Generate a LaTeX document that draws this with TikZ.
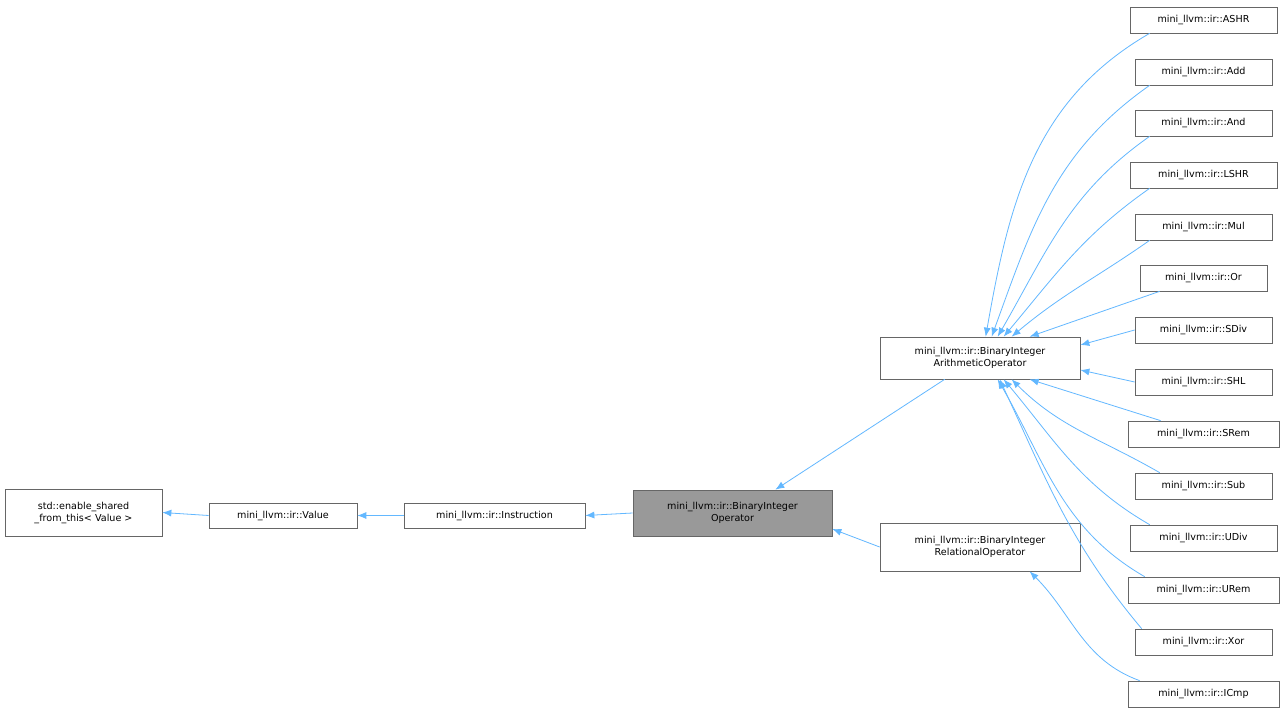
\documentclass[tikz,border=0pt]{standalone}
\usepackage{fontspec}
\setmainfont{DejaVu Sans}
\usetikzlibrary{arrows.meta,calc}
\definecolor{edgec}{HTML}{63B8FF}
\definecolor{boxc}{HTML}{666666}
\begin{document}
\begin{tikzpicture}[x=1pt,y=-1pt,
  box/.style={draw=boxc,fill=white,line width=0.7pt,inner sep=0pt,align=center,font=\fontsize{9.6}{12}\selectfont},
  edge/.style={draw=edgec,line width=0.8pt,-{Latex[length=9pt,width=7pt]}}]
\fill[white] (0,0) rectangle (1285,714);
\useasboundingbox (0,0) rectangle (1285,714);
\node[box,minimum width=157,minimum height=47] (esf) at (83.5,512.5) {std::enable\_shared\\\_from\_this{<} Value {>}};
\node[box,minimum width=148,minimum height=25] (val) at (283,515.5) {mini\_llvm::ir::Value};
\node[box,minimum width=181,minimum height=25] (ins) at (494.5,515.5) {mini\_llvm::ir::Instruction};
\node[box,fill=black!40,minimum width=199,minimum height=46] (bio) at (732.5,513) {mini\_llvm::ir::BinaryInteger\\Operator};
\node[box,minimum width=200,minimum height=42] (ar) at (980,358) {mini\_llvm::ir::BinaryInteger\\ArithmeticOperator};
\node[box,minimum width=200,minimum height=48] (rel) at (980,547) {mini\_llvm::ir::BinaryInteger\\RelationalOperator};
\foreach \n/\t/\w/\y in {ashr/ASHR/147/20, add/Add/137/72, and/And/137/123, lshr/LSHR/147/175, mul/Mul/137/227, or/Or/127/278, sdiv/SDiv/137/330, shl/SHL/137/382, srem/SRem/151/434, sub/Sub/137/486, udiv/UDiv/147/538, urem/URem/151/590, xor/Xor/137/642, icmp/ICmp/151/694}
  \node[box,minimum width=\w,minimum height=26] (\n) at (1203.5,\y) {mini\_llvm::ir::\t};
\draw[edge] (val.west) -- (esf.east);
\draw[edge] (ins.west) -- (val.east);
\draw[edge] (bio.west) -- (ins.east);
\draw[edge] ($(ar.south west)+(65,0)$) -- ($(bio.north east)+(-57,0)$);
\draw[edge] (rel.west) -- ($(bio.east)+(0,16)$);
\draw[edge] ($(ashr.south west)+(20,0)$) to[out=-150,in=80] ($(ar.north west)+(106,0)$);
\draw[edge] ($(add.south west)+(15,0)$) to[out=-145,in=70] ($(ar.north west)+(112,0)$);
\draw[edge] ($(and.south west)+(15,0)$) to[out=-145,in=60] ($(ar.north west)+(118,0)$);
\draw[edge] ($(lshr.south west)+(20,0)$) to[out=-145,in=50] ($(ar.north west)+(124,0)$);
\draw[edge] ($(mul.south west)+(15,0)$) to[out=-145,in=40] ($(ar.north west)+(132,0)$);
\draw[edge] ($(or.south west)+(20,0)$) -- ($(ar.north west)+(150,0)$);
\draw[edge] (sdiv.west) -- ($(ar.east)+(0,-13)$);
\draw[edge] (shl.west) -- ($(ar.east)+(0,12)$);
\draw[edge] ($(srem.north west)+(33,0)$) -- ($(ar.south west)+(150,0)$);
\draw[edge] ($(sub.north west)+(25,0)$) to[out=150,in=-45] ($(ar.south west)+(132,0)$);
\draw[edge] ($(udiv.north west)+(20,0)$) to[out=150,in=-50] ($(ar.south west)+(124,0)$);
\draw[edge] ($(urem.north west)+(17,0)$) to[out=150,in=-60] ($(ar.south west)+(118,0)$);
\draw[edge] ($(xor.north west)+(7,0)$) to[out=130,in=-65] ($(ar.south west)+(120,0)$);
\draw[edge] ($(icmp.north west)+(12,0)$) to[out=160,in=-45] ($(rel.south west)+(150,0)$);
\end{tikzpicture}
\end{document}
